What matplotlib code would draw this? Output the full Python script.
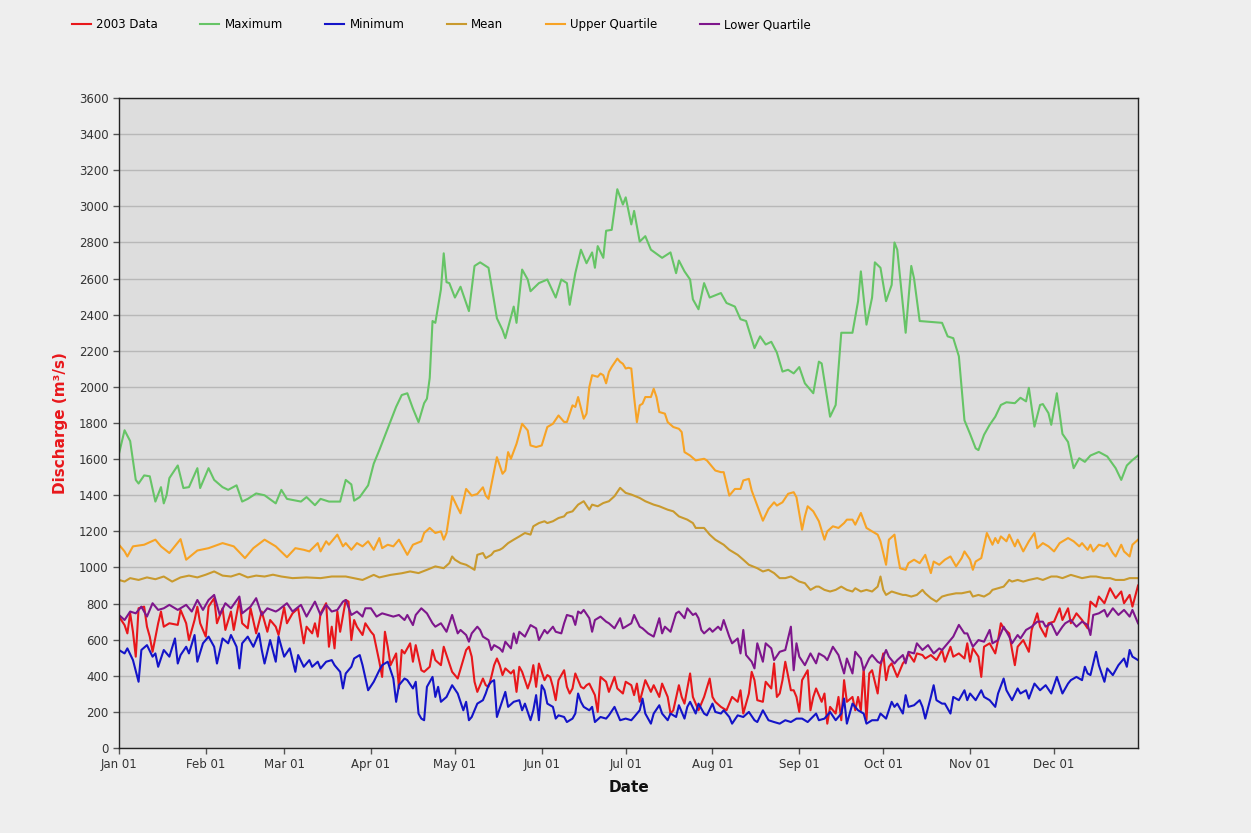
import numpy as np
import matplotlib
matplotlib.use("Agg")
import matplotlib.pyplot as plt
import matplotlib.dates as mdates

# Daily discharge (m3/s), sampled as (day-of-year offset, value)
data_2003 = [(0,728),(2,681),(3,635),(4,746),(5,644),(6,506),(7,774),(9,783),(10,672),(11,617),(12,533),(14,691),(15,756),(16,672),(18,691),(21,682),(22,765),(24,691),(25,598),(27,709),(28,783),(29,691),(31,617),(32,783),(34,830),(35,691),(37,774),(38,654),(40,756),(41,654),(43,820),(44,691),(46,663),(47,774),(49,635),(51,756),(53,644),(54,709),(56,672),(57,626),(59,780),(60,691),(62,746),(64,774),(66,580),(67,672),(69,635),(70,691),(71,617),(72,746),(74,802),(75,561),(76,672),(77,552),(78,756),(79,644),(81,820),(82,811),(83,598),(84,709),(85,672),(87,626),(88,691),(90,644),(91,626),(93,478),(94,394),(95,644),(96,561),(97,459),(99,524),(100,330),(101,543),(102,524),(104,580),(105,478),(106,570),(108,431),(109,422),(111,450),(112,543),(113,487),(115,459),(116,561),(118,469),(119,422),(121,385),(124,543),(125,561),(126,506),(127,367),(128,311),(130,385),(131,348),(132,339),(133,394),(134,459),(135,496),(136,459),(137,404),(138,441),(140,413),(141,431),(142,311),(143,450),(144,422),(146,330),(147,376),(148,459),(149,339),(150,468),(152,376),(153,404),(154,394),(155,339),(156,265),(157,376),(159,431),(160,339),(161,302),(162,330),(163,413),(165,339),(166,330),(167,348),(168,357),(170,293),(171,200),(172,394),(174,367),(175,311),(177,394),(178,330),(180,302),(181,367),(183,348),(184,293),(185,357),(186,256),(188,376),(190,311),(191,348),(193,283),(194,357),(196,283),(197,191),(198,209),(200,348),(201,283),(202,246),(204,413),(205,283),(207,209),(209,283),(211,385),(212,283),(213,256),(215,228),(217,209),(219,283),(221,256),(222,320),(223,191),(225,302),(226,422),(227,376),(228,265),(230,256),(231,367),(233,330),(234,469),(235,283),(236,302),(237,376),(238,478),(240,320),(241,320),(242,283),(243,200),(244,376),(246,431),(247,209),(248,283),(249,330),(251,256),(252,302),(253,135),(254,228),(256,191),(257,283),(258,154),(259,376),(260,256),(262,283),(263,209),(264,283),(265,209),(266,441),(267,154),(268,413),(269,431),(271,302),(272,450),(273,524),(274,376),(275,450),(276,469),(278,394),(280,469),(281,487),(282,524),(284,478),(285,524),(287,515),(288,496),(290,515),(292,487),(294,543),(295,478),(297,561),(298,506),(300,524),(302,496),(303,580),(304,478),(305,552),(307,506),(308,394),(309,561),(311,580),(313,524),(314,598),(315,691),(316,663),(318,635),(319,543),(320,459),(321,561),(323,598),(325,533),(326,654),(328,746),(329,672),(331,617),(332,691),(334,700),(336,774),(337,709),(339,774),(340,691),(342,746),(344,709),(346,663),(347,811),(349,783),(350,839),(352,802),(354,885),(356,830),(358,867),(359,802),(361,848),(362,783),(364,900)]

maximum = [(0,1630),(2,1760),(4,1700),(6,1485),(7,1465),(9,1510),(11,1505),(13,1365),(15,1445),(16,1355),(17,1400),(18,1495),(21,1565),(23,1440),(25,1445),(28,1550),(29,1440),(32,1550),(34,1485),(37,1445),(39,1430),(42,1455),(44,1365),(46,1380),(49,1410),(52,1400),(56,1355),(58,1430),(60,1380),(65,1365),(67,1390),(70,1345),(72,1380),(75,1365),(79,1365),(81,1485),(83,1460),(84,1370),(86,1390),(89,1455),(91,1575),(93,1650),(96,1770),(99,1890),(101,1955),(103,1965),(105,1880),(107,1805),(109,1910),(110,1935),(111,2050),(112,2365),(113,2355),(115,2540),(116,2740),(117,2580),(118,2575),(120,2495),(122,2555),(125,2420),(127,2670),(129,2690),(132,2660),(135,2380),(137,2315),(138,2270),(141,2445),(142,2355),(144,2650),(146,2595),(147,2530),(150,2575),(153,2595),(156,2495),(158,2595),(160,2575),(161,2455),(163,2630),(165,2760),(167,2685),(169,2745),(170,2660),(171,2780),(173,2715),(174,2865),(176,2870),(178,3095),(180,3010),(181,3050),(183,2900),(184,2975),(186,2805),(188,2835),(190,2760),(194,2715),(197,2745),(199,2630),(200,2700),(202,2640),(204,2595),(205,2485),(207,2430),(209,2575),(211,2495),(215,2520),(217,2465),(220,2445),(222,2375),(224,2365),(227,2215),(229,2280),(231,2235),(233,2250),(235,2190),(237,2085),(239,2095),(241,2075),(243,2110),(245,2020),(248,1965),(250,2140),(251,2130),(254,1835),(256,1900),(258,2300),(262,2300),(264,2475),(265,2640),(267,2345),(269,2495),(270,2690),(272,2660),(274,2475),(276,2565),(277,2800),(278,2760),(280,2455),(281,2300),(283,2670),(284,2600),(286,2365),(294,2355),(296,2280),(298,2270),(300,2170),(302,1815),(304,1740),(306,1660),(307,1650),(309,1735),(311,1790),(313,1835),(315,1900),(317,1915),(320,1910),(322,1940),(324,1920),(325,1995),(327,1780),(329,1900),(330,1905),(332,1855),(333,1790),(335,1965),(337,1740),(339,1695),(341,1550),(343,1605),(345,1585),(347,1620),(350,1640),(353,1615),(356,1550),(358,1485),(360,1565),(362,1595),(364,1620)]

minimum = [(0,543),(2,524),(3,552),(5,487),(7,367),(8,543),(10,570),(12,506),(13,524),(14,450),(16,543),(18,506),(20,607),(21,468),(22,515),(24,561),(25,524),(27,626),(28,478),(30,580),(32,617),(34,561),(35,468),(37,607),(39,580),(40,626),(42,561),(43,441),(44,580),(46,617),(48,561),(50,635),(51,543),(52,468),(54,598),(56,478),(57,617),(59,506),(61,552),(63,422),(64,515),(66,450),(68,487),(69,450),(71,478),(72,441),(74,478),(76,487),(77,459),(79,422),(80,330),(81,413),(83,450),(84,496),(86,515),(87,459),(89,320),(91,367),(93,431),(94,459),(96,478),(97,431),(98,385),(99,256),(100,348),(102,385),(103,376),(105,330),(106,367),(107,191),(108,163),(109,154),(110,339),(112,394),(113,283),(114,339),(115,256),(117,283),(119,348),(121,302),(123,209),(124,256),(125,154),(126,172),(128,246),(130,265),(131,302),(132,348),(133,367),(134,376),(135,172),(136,219),(138,311),(139,228),(141,256),(143,265),(144,209),(145,246),(147,154),(148,209),(149,293),(150,154),(151,348),(152,320),(153,246),(155,228),(156,163),(157,181),(159,172),(160,144),(162,163),(163,191),(164,302),(165,256),(166,228),(168,209),(169,228),(170,144),(172,172),(174,163),(175,181),(177,228),(178,191),(179,154),(181,163),(183,154),(184,172),(186,209),(187,274),(188,191),(190,135),(191,191),(193,237),(194,191),(196,154),(197,191),(199,172),(200,237),(202,163),(203,228),(204,256),(206,191),(207,246),(209,191),(210,181),(212,246),(213,200),(215,191),(216,209),(218,172),(219,135),(221,181),(223,172),(225,200),(227,154),(228,144),(230,209),(232,154),(234,144),(236,135),(238,154),(240,144),(242,163),(244,163),(246,144),(249,191),(250,154),(252,163),(254,200),(256,154),(258,191),(259,274),(260,135),(262,246),(264,209),(266,191),(267,135),(269,154),(271,154),(272,191),(274,163),(275,209),(276,256),(277,228),(278,246),(280,191),(281,293),(282,228),(284,237),(286,265),(287,228),(288,163),(290,283),(291,348),(292,265),(294,246),(295,246),(297,191),(298,283),(300,265),(302,320),(303,265),(304,302),(306,265),(308,320),(309,283),(311,265),(313,228),(314,302),(316,385),(317,320),(319,265),(321,330),(322,302),(324,320),(325,274),(327,357),(329,320),(331,348),(333,302),(335,394),(337,302),(339,357),(340,376),(342,394),(344,376),(345,450),(346,413),(347,404),(349,533),(350,459),(352,367),(353,441),(355,404),(357,459),(359,496),(360,450),(361,543),(362,506),(364,487)]

mean = [(0,931),(2,922),(4,941),(7,931),(10,945),(13,935),(16,950),(19,922),(22,945),(25,955),(28,945),(31,960),(34,978),(37,955),(40,950),(43,965),(46,945),(49,955),(52,950),(55,960),(58,950),(62,941),(67,945),(72,941),(76,950),(81,950),(87,931),(91,959),(93,945),(97,959),(101,968),(104,978),(107,969),(110,987),(113,1006),(116,996),(118,1024),(119,1061),(120,1043),(122,1024),(124,1015),(125,1006),(127,987),(128,1070),(130,1080),(131,1052),(133,1070),(134,1089),(136,1098),(137,1107),(139,1135),(141,1154),(143,1172),(145,1191),(147,1182),(148,1228),(150,1246),(152,1256),(153,1246),(155,1256),(157,1274),(159,1283),(160,1302),(162,1311),(164,1348),(166,1367),(168,1320),(169,1348),(171,1339),(173,1357),(175,1367),(177,1395),(179,1441),(181,1413),(183,1404),(186,1385),(188,1367),(191,1348),(193,1339),(196,1320),(198,1311),(200,1283),(203,1265),(205,1246),(206,1219),(209,1219),(211,1182),(213,1154),(216,1126),(218,1098),(221,1070),(223,1043),(225,1015),(228,996),(230,978),(232,987),(234,969),(236,941),(238,941),(240,950),(241,941),(243,922),(245,913),(247,876),(249,894),(250,894),(252,876),(254,867),(256,876),(258,894),(260,876),(262,867),(263,885),(265,867),(267,876),(269,867),(271,894),(272,950),(273,876),(274,848),(276,867),(278,857),(280,848),(281,848),(283,839),(285,848),(287,876),(288,857),(290,830),(292,811),(294,839),(296,848),(299,857),(301,857),(304,867),(305,839),(307,848),(309,839),(311,857),(312,876),(314,885),(316,894),(318,931),(319,922),(321,931),(323,922),(325,931),(328,941),(330,931),(333,950),(335,950),(337,941),(340,959),(342,950),(344,941),(347,950),(349,950),(352,941),(354,941),(356,931),(359,931),(361,941),(364,941)]

upper_quartile = [(0,1126),(2,1089),(3,1061),(5,1117),(9,1126),(13,1154),(15,1117),(18,1080),(22,1157),(24,1043),(28,1094),(32,1107),(37,1135),(41,1117),(45,1052),(48,1107),(52,1154),(56,1117),(60,1057),(63,1107),(66,1098),(68,1089),(71,1135),(72,1089),(74,1145),(75,1126),(78,1182),(80,1117),(81,1135),(83,1098),(85,1135),(87,1117),(89,1145),(91,1098),(93,1163),(94,1107),(96,1126),(98,1117),(100,1154),(102,1098),(103,1070),(105,1126),(108,1145),(109,1191),(111,1219),(113,1191),(115,1200),(116,1154),(117,1191),(119,1395),(121,1330),(122,1300),(124,1435),(126,1398),(128,1407),(130,1444),(131,1398),(132,1380),(135,1611),(137,1519),(138,1537),(139,1639),(140,1602),(142,1685),(144,1796),(146,1759),(147,1676),(149,1667),(151,1676),(153,1778),(155,1796),(157,1842),(159,1806),(160,1806),(162,1898),(163,1889),(164,1944),(166,1824),(167,1852),(168,1999),(169,2065),(171,2056),(172,2074),(173,2065),(174,2020),(175,2083),(176,2111),(178,2157),(179,2139),(180,2128),(181,2102),(182,2106),(183,2102),(184,1944),(185,1805),(186,1898),(187,1907),(188,1944),(190,1944),(191,1990),(192,1944),(193,1861),(195,1852),(196,1805),(198,1778),(200,1768),(201,1750),(202,1639),(204,1620),(206,1593),(209,1602),(210,1593),(213,1537),(215,1528),(216,1528),(218,1398),(220,1435),(222,1435),(223,1482),(225,1491),(226,1426),(228,1343),(230,1259),(232,1324),(234,1361),(235,1343),(237,1361),(239,1408),(241,1417),(242,1389),(244,1209),(245,1283),(246,1339),(248,1311),(250,1256),(252,1154),(253,1200),(255,1228),(257,1219),(259,1246),(260,1265),(262,1265),(263,1237),(265,1302),(267,1219),(269,1200),(271,1182),(272,1145),(274,1015),(275,1154),(277,1182),(278,1080),(279,996),(281,987),(282,1024),(284,1043),(286,1024),(288,1070),(290,969),(291,1033),(293,1015),(295,1043),(297,1061),(299,1006),(301,1052),(302,1089),(304,1043),(305,987),(306,1033),(308,1052),(310,1191),(312,1126),(313,1163),(314,1135),(315,1172),(317,1145),(318,1182),(320,1117),(321,1154),(323,1089),(325,1145),(327,1191),(328,1107),(330,1135),(332,1117),(334,1089),(336,1135),(339,1163),(341,1145),(343,1117),(344,1135),(346,1098),(347,1126),(348,1089),(350,1126),(352,1117),(353,1135),(355,1080),(356,1061),(358,1126),(359,1089),(361,1061),(362,1126),(364,1154)]

lower_quartile = [(0,737),(2,709),(4,756),(6,746),(8,783),(10,728),(12,802),(14,765),(16,774),(18,793),(21,765),(24,793),(26,756),(28,820),(30,765),(32,820),(34,848),(36,737),(38,802),(40,774),(43,839),(44,746),(47,783),(49,830),(51,737),(53,774),(56,756),(57,765),(60,802),(62,756),(65,793),(67,728),(70,811),(72,737),(74,793),(76,756),(78,765),(80,811),(81,820),(83,737),(85,756),(87,728),(88,774),(90,774),(92,728),(94,746),(96,737),(98,728),(100,737),(102,709),(103,737),(105,681),(106,737),(108,774),(110,746),(112,691),(113,672),(115,691),(117,644),(119,737),(121,635),(122,654),(124,626),(125,589),(126,635),(128,672),(129,654),(130,617),(132,598),(133,543),(134,570),(136,552),(137,533),(138,589),(140,552),(141,635),(142,580),(143,644),(145,617),(147,681),(149,663),(150,598),(152,654),(153,635),(155,672),(156,644),(158,635),(159,691),(160,737),(162,728),(163,682),(164,756),(165,746),(166,765),(168,719),(169,644),(170,709),(172,728),(174,700),(175,691),(177,663),(179,719),(180,663),(182,682),(183,691),(184,737),(186,672),(187,663),(189,635),(191,617),(193,719),(194,635),(195,672),(197,644),(199,746),(200,756),(202,719),(203,774),(205,737),(206,746),(207,719),(208,654),(209,635),(211,663),(212,644),(214,672),(215,654),(216,709),(218,617),(219,580),(221,607),(222,524),(223,654),(224,515),(226,478),(227,441),(228,580),(230,478),(231,580),(233,552),(234,487),(236,533),(238,543),(240,672),(241,431),(242,580),(243,506),(245,459),(247,524),(249,469),(250,524),(252,506),(253,487),(255,561),(257,515),(259,413),(260,496),(262,413),(263,533),(265,496),(266,431),(268,496),(269,515),(271,478),(272,469),(274,543),(275,506),(277,468),(278,487),(280,515),(281,469),(282,533),(284,524),(285,580),(287,543),(289,570),(291,524),(293,552),(294,543),(296,580),(298,617),(300,682),(302,635),(303,635),(305,561),(307,598),(309,589),(311,654),(312,580),(314,598),(316,672),(318,617),(319,580),(321,626),(322,607),(324,654),(326,672),(328,700),(330,700),(331,672),(333,691),(335,626),(337,672),(338,691),(340,709),(342,672),(344,700),(346,682),(347,626),(348,737),(350,746),(352,765),(353,728),(355,774),(357,737),(359,765),(361,728),(362,765),(364,691)]

series_labels = ["2003 Data", "Maximum", "Minimum", "Mean", "Upper Quartile", "Lower Quartile"]
series_colors = ["#E8171B", "#66C466", "#1414C8", "#C99A2E", "#F7A325", "#7E168C"]
y_ticks = list(range(0, 3601, 200))
start = np.datetime64("2003-01-01")


def to_xy(pairs):
    days = np.array([p[0] for p in pairs])
    vals = np.array([p[1] for p in pairs], dtype=float)
    return start + days.astype("timedelta64[D]"), vals


fig = plt.figure(figsize=(12.51, 8.33), dpi=100, facecolor="#EEEEEE")
ax = fig.add_axes([0.0951, 0.102, 0.8146, 0.7803])
ax.set_facecolor("#DDDDDD")

for pairs, lab, col in zip(
    [data_2003, maximum, minimum, mean, upper_quartile, lower_quartile],
    series_labels, series_colors,
):
    x, y = to_xy(pairs)
    ax.plot(x, y, color=col, lw=1.5, label=lab, solid_joinstyle="round")

ax.set_xlim(start, np.datetime64("2003-12-31"))
ax.set_ylim(0, 3600)
ax.set_yticks(y_ticks)
ax.yaxis.grid(True, color="#B8B8B8", lw=1.0)
ax.xaxis.grid(False)
ax.set_axisbelow(True)

ax.xaxis.set_major_locator(mdates.MonthLocator())
ax.xaxis.set_major_formatter(mdates.DateFormatter("%b %d"))
ax.tick_params(axis="both", labelsize=8.5, length=4, width=1,
               colors="#555555", labelcolor="#333333")

for side in ["left", "bottom", "top", "right"]:
    ax.spines[side].set_color("#222222")
    ax.spines[side].set_linewidth(1.0)

ax.set_ylabel("Discharge (m\u00b3/s)", color="#E8171B", fontsize=11,
              fontweight="bold", labelpad=8)
ax.set_xlabel("Date", fontsize=11, fontweight="bold", color="#111111", labelpad=6)

fig.legend(loc="center left", bbox_to_anchor=(0.049, 0.97), ncol=6,
           frameon=False, fontsize=8.5, handlelength=1.6, handletextpad=0.45,
           columnspacing=3.6)

fig.savefig("out.png", dpi=100, facecolor=fig.get_facecolor())
